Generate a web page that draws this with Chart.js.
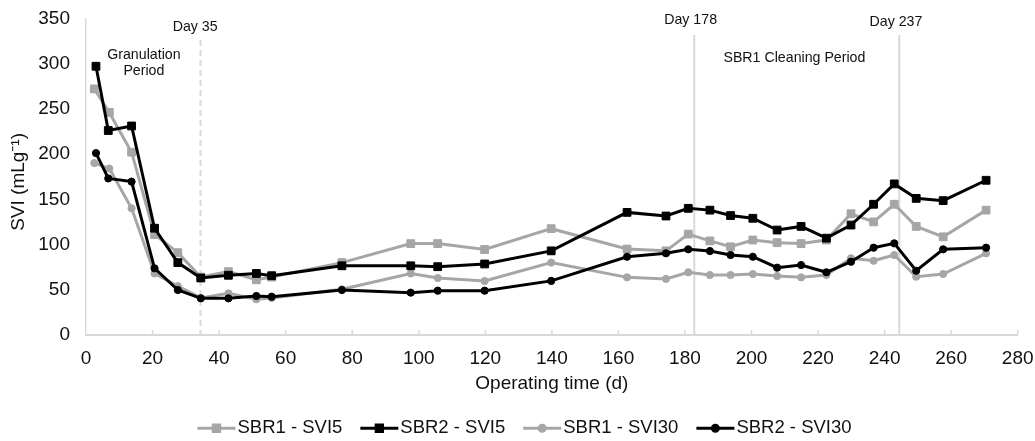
<!DOCTYPE html>
<html>
<head>
<meta charset="utf-8">
<script src="https://cdn.jsdelivr.net/npm/chart.js@4.4.1/dist/chart.umd.min.js"></script>
<style>
  html, body { margin: 0; padding: 0; background: #fff; }
  canvas { display: block; }
</style>
</head>
<body>
<canvas id="svi" width="1035" height="441"></canvas>
<script>
// operating days of each sampling
const daysSBR1 = [2.5, 7, 13.7, 20.6, 27.6, 34.5, 42.8, 51.2, 55.8, 76.9, 97.6, 105.7, 119.8, 139.8, 162.6, 174.3, 181, 187.5, 193.7, 200.4, 207.7, 214.9, 222.5, 229.9, 236.7, 242.9, 249.5, 257.6, 270.5];
const daysSBR2 = [3, 6.7, 13.7, 20.6, 27.6, 34.5, 42.8, 51.2, 55.8, 76.9, 97.6, 105.7, 119.8, 139.8, 162.6, 174.3, 181, 187.5, 193.7, 200.4, 207.7, 214.9, 222.5, 229.9, 236.7, 242.9, 249.5, 257.6, 270.5];

// SVI after 5 and 30 minutes of settling (mL/g)
const sbr1Svi5 = [272, 246, 202, 111, 91, 64, 70, 61, 64, 80, 101, 101, 94.5, 117.5, 95, 93, 111.5, 104, 97.5, 105, 102, 101, 105, 134, 125, 144.5, 120, 108.5, 138];
const sbr2Svi5 = [297, 226, 231, 118, 80, 63, 66, 68, 65.5, 76.5, 76.5, 75.5, 78.5, 93, 135.5, 131.5, 140, 138, 132, 129, 116, 120, 107, 121.5, 144.5, 167, 151, 148.5, 171];
const sbr1Svi30 = [190, 184, 140, 68, 54, 41, 46, 39.5, 41, 50.5, 68, 63, 59.7, 80, 63.7, 62, 69.3, 66.3, 66.3, 67.4, 65.2, 63.7, 66.3, 84.8, 82, 88.4, 64.4, 67.4, 90.3];
const sbr2Svi30 = [201, 173, 169.5, 73.7, 49.7, 40.5, 40.5, 43.1, 42.3, 49.7, 46.8, 49, 49, 59.8, 86.5, 90.3, 94.7, 92.8, 88.4, 86.5, 74.4, 77.3, 69.3, 81, 96.5, 101.3, 71, 94.7, 96.5];

const xTicks = [0, 20, 40, 60, 80, 100, 120, 140, 160, 180, 200, 220, 240, 260, 280];
const yTicks = [0, 50, 100, 150, 200, 250, 300, 350];

const FONT = "'Liberation Sans', Arial, sans-serif";
const GREY = '#a6a6a6';
const BLACK = '#000000';
const AXIS = '#d9d9d9';
const TEXT = '#111111';

// period boundaries (day on the axis, top of the line in SVI units)
const boundaries = [
  { day: 34.4, top: 326, dash: [6, 4] },
  { day: 182.8, top: 331.5, dash: [] },
  { day: 244.4, top: 331.5, dash: [] }
];

const notes = [
  { text: 'Day 35', day: 32.8, svi: 340 },
  { text: 'Granulation', day: 17.4, svi: 309.4 },
  { text: 'Period', day: 17.4, svi: 291.4 },
  { text: 'Day 178', day: 181.7, svi: 347.5 },
  { text: 'SBR1 Cleaning Period', day: 212.9, svi: 305.7 },
  { text: 'Day 237', day: 243.4, svi: 345.9 }
];

const toPoints = (days, vals) => days.map((d, i) => ({ x: d, y: vals[i] }));

function series(label, days, vals, color, style, radius, order) {
  return {
    label,
    data: toPoints(days, vals),
    borderColor: color,
    backgroundColor: color,
    borderWidth: 3,
    pointStyle: style,
    pointRadius: radius,
    pointBorderWidth: 1,
    pointBackgroundColor: color,
    pointBorderColor: color,
    tension: 0,
    order
  };
}

const periodMarks = {
  id: 'periodMarks',
  beforeDatasetsDraw(chart) {
    const { ctx, chartArea, scales: { x, y } } = chart;
    ctx.save();
    ctx.strokeStyle = AXIS;
    ctx.lineWidth = 1.5;
    // short inner tick marks on the time axis
    xTicks.forEach(v => {
      if (v === 0) return;
      const px = x.getPixelForValue(v);
      ctx.beginPath();
      ctx.moveTo(px, chartArea.bottom);
      ctx.lineTo(px, chartArea.bottom - 5);
      ctx.stroke();
    });
    ctx.lineWidth = 2;
    boundaries.forEach(b => {
      const px = x.getPixelForValue(b.day);
      ctx.setLineDash(b.dash);
      ctx.beginPath();
      ctx.moveTo(px, y.getPixelForValue(b.top));
      ctx.lineTo(px, chartArea.bottom);
      ctx.stroke();
    });
    ctx.restore();
  },
  afterDraw(chart) {
    const { ctx, scales: { x, y } } = chart;
    ctx.save();
    ctx.fillStyle = TEXT;
    ctx.font = `14.2px ${FONT}`;
    ctx.textAlign = 'center';
    ctx.textBaseline = 'middle';
    notes.forEach(n => ctx.fillText(n.text, x.getPixelForValue(n.day), y.getPixelForValue(n.svi)));

    // legend: line with marker, then label
    const sym = 38, gap = 2, sep = 18, cy = 428.3, cx = 524.5;
    ctx.font = `18.5px ${FONT}`;
    ctx.textAlign = 'left';
    const sets = chart.data.datasets;
    const widths = sets.map(ds => ctx.measureText(ds.label).width);
    const total = widths.reduce((a, w) => a + sym + gap + w, 0) + sep * (sets.length - 1);
    let lx = cx - total / 2;
    sets.forEach((ds, i) => {
      ctx.strokeStyle = ds.borderColor;
      ctx.lineWidth = 3;
      ctx.beginPath();
      ctx.moveTo(lx, cy);
      ctx.lineTo(lx + sym, cy);
      ctx.stroke();
      Chart.helpers.drawPoint(ctx, {
        pointStyle: ds.pointStyle,
        radius: ds.pointStyle === 'rect' ? 4.5 : 3,
        rotation: 0,
        borderWidth: 1
      }, lx + sym / 2, cy);
      ctx.fillStyle = ds.borderColor;
      ctx.fill();
      ctx.fillStyle = TEXT;
      ctx.fillText(ds.label, lx + sym + gap, cy);
      lx += sym + gap + widths[i] + sep;
    });
    ctx.restore();
  }
};

new Chart(document.getElementById('svi'), {
  type: 'line',
  data: {
    datasets: [
      series('SBR1 - SVI5', daysSBR1, sbr1Svi5, GREY, 'rect', 5.5, 2),
      series('SBR2 - SVI5', daysSBR2, sbr2Svi5, BLACK, 'rect', 5.5, 1),
      series('SBR1 - SVI30', daysSBR1, sbr1Svi30, GREY, 'circle', 3.6, 2),
      series('SBR2 - SVI30', daysSBR2, sbr2Svi30, BLACK, 'circle', 3.6, 1)
    ]
  },
  options: {
    responsive: false,
    animation: false,
    devicePixelRatio: 1,
    layout: { padding: { left: 0, right: 17.3, top: 18.3, bottom: 0 } },
    plugins: {
      legend: { display: false },
      tooltip: { enabled: false }
    },
    scales: {
      x: {
        type: 'linear',
        min: 0,
        max: 280,
        afterBuildTicks: s => { s.ticks = xTicks.map(v => ({ value: v })); },
        afterFit: s => {
          s.height = 106;
          s.paddingLeft = 0;
          s.paddingRight = 0;
        },
        grid: { display: false, drawTicks: false },
        border: { display: true, color: AXIS, width: 2 },
        ticks: { color: TEXT, font: { family: FONT, size: 19 }, padding: 12, maxRotation: 0 },
        title: {
          display: true,
          text: 'Operating time (d)',
          color: TEXT,
          font: { family: FONT, size: 19 },
          padding: { top: 0, bottom: 45.6 }
        }
      },
      y: {
        min: 0,
        max: 350,
        afterBuildTicks: s => { s.ticks = yTicks.map(v => ({ value: v })); },
        afterFit: s => {
          s.width = 86;
          s.paddingTop = 0;
          s.paddingBottom = 0;
        },
        grid: { display: false, drawTicks: false },
        border: { display: true, color: AXIS, width: 1.5 },
        ticks: { color: TEXT, font: { family: FONT, size: 19 }, padding: 16 },
        title: {
          display: true,
          text: 'SVI (mLg⁻¹)  ',
          color: TEXT,
          font: { family: FONT, size: 19 },
          padding: { top: 7.6, bottom: 0 }
        }
      }
    }
  },
  plugins: [periodMarks]
});
</script>
</body>
</html>
